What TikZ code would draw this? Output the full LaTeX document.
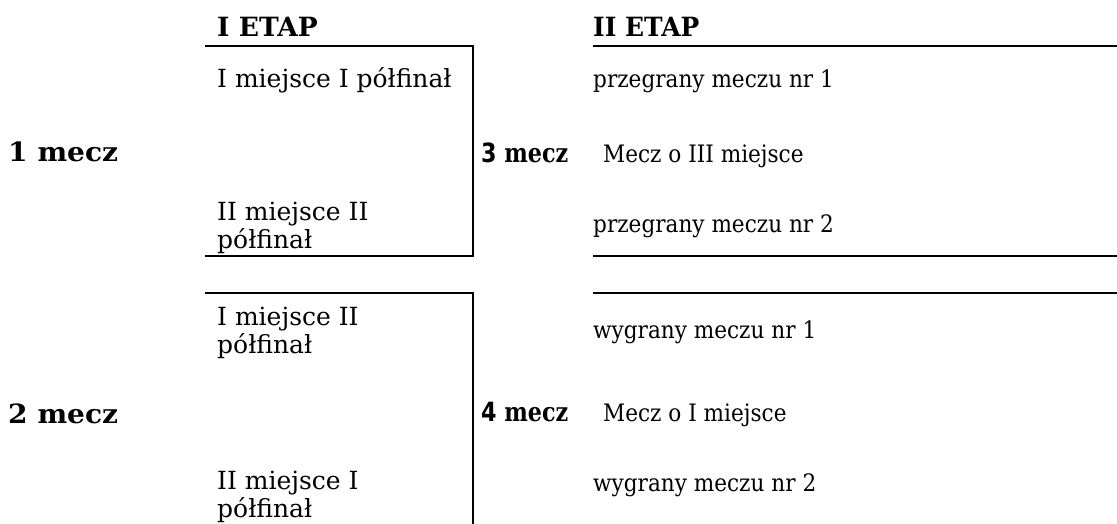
\documentclass[tikz,border=0pt]{standalone}
\usepackage{fontspec}
\setmainfont{DejaVu Serif}
\newfontfamily\digsans{DejaVu Sans}
\newcommand\rsq[1]{\scalebox{0.9}[1]{#1}}
\begin{document}
\begin{tikzpicture}[x=1pt,y=-1pt,
  txt/.style={anchor=base west,inner sep=0pt,font=\fontsize{25}{28}\selectfont,align=left},
  rtxt/.style={anchor=base west,inner sep=0pt,font=\fontsize{24}{28}\selectfont},
  hd/.style={anchor=base west,inner sep=0pt,font=\fontsize{26.5}{28}\selectfont\bfseries},
  rule/.style={line width=1.8pt}]
\useasboundingbox (0,0) rectangle (1117,524);
% headings
\node[hd] (h1) at (217,37) {I ETAP};
\node[hd] (h2) at (593,37) {\scalebox{0.94}[1]{II ETAP}};
% match labels
\node[hd] (m1) at (8,162) {\scalebox{1.06}[1]{1 mecz}};
\node[hd] (m2) at (8,423) {\scalebox{1.06}[1]{2 mecz}};
\node[hd] (m3) at (481,163) {\scalebox{0.84}[1]{{\digsans 3} mecz}};
\node[hd] (m4) at (481,421) {\scalebox{0.84}[1]{{\digsans 4} mecz}};
% stage I entries
\node[txt] (a1) at (217,88) {I miejsce I półfinał};
\node[txt] (a2) at (217,248) {II miejsce II\\półfinał};
\node[txt] (a3) at (217,353) {I miejsce II\\półfinał};
\node[txt] (a4) at (217,517) {II miejsce I\\półfinał};
% stage II entries
\node[rtxt] (b1) at (593,88) {\rsq{przegrany meczu nr 1}};
\node[rtxt] (b2) at (603,163) {\rsq{Mecz o III miejsce}};
\node[rtxt] (b3) at (593,233) {\rsq{przegrany meczu nr 2}};
\node[rtxt] (c1) at (593,338) {\rsq{wygrany meczu nr 1}};
\node[rtxt] (c2) at (603,421) {\rsq{Mecz o I miejsce}};
\node[rtxt] (c3) at (593,491) {\rsq{wygrany meczu nr 2}};
% brackets
\coordinate (p1) at (205,46);
\coordinate (p2) at (473,256);
\coordinate (p3) at (205,256);
\coordinate (q1) at (205,293);
\coordinate (q2) at (473,524);
\draw[rule] (p1) -| (p2) -- (p3);
\draw[rule] (q1) -| (q2);
\coordinate (r1) at (593,46);  \coordinate (r2) at (1117,46);
\coordinate (r3) at (593,256); \coordinate (r4) at (1117,256);
\coordinate (r5) at (593,293); \coordinate (r6) at (1117,293);
\draw[rule] (r1) -- (r2);
\draw[rule] (r3) -- (r4);
\draw[rule] (r5) -- (r6);
\end{tikzpicture}
\end{document}
